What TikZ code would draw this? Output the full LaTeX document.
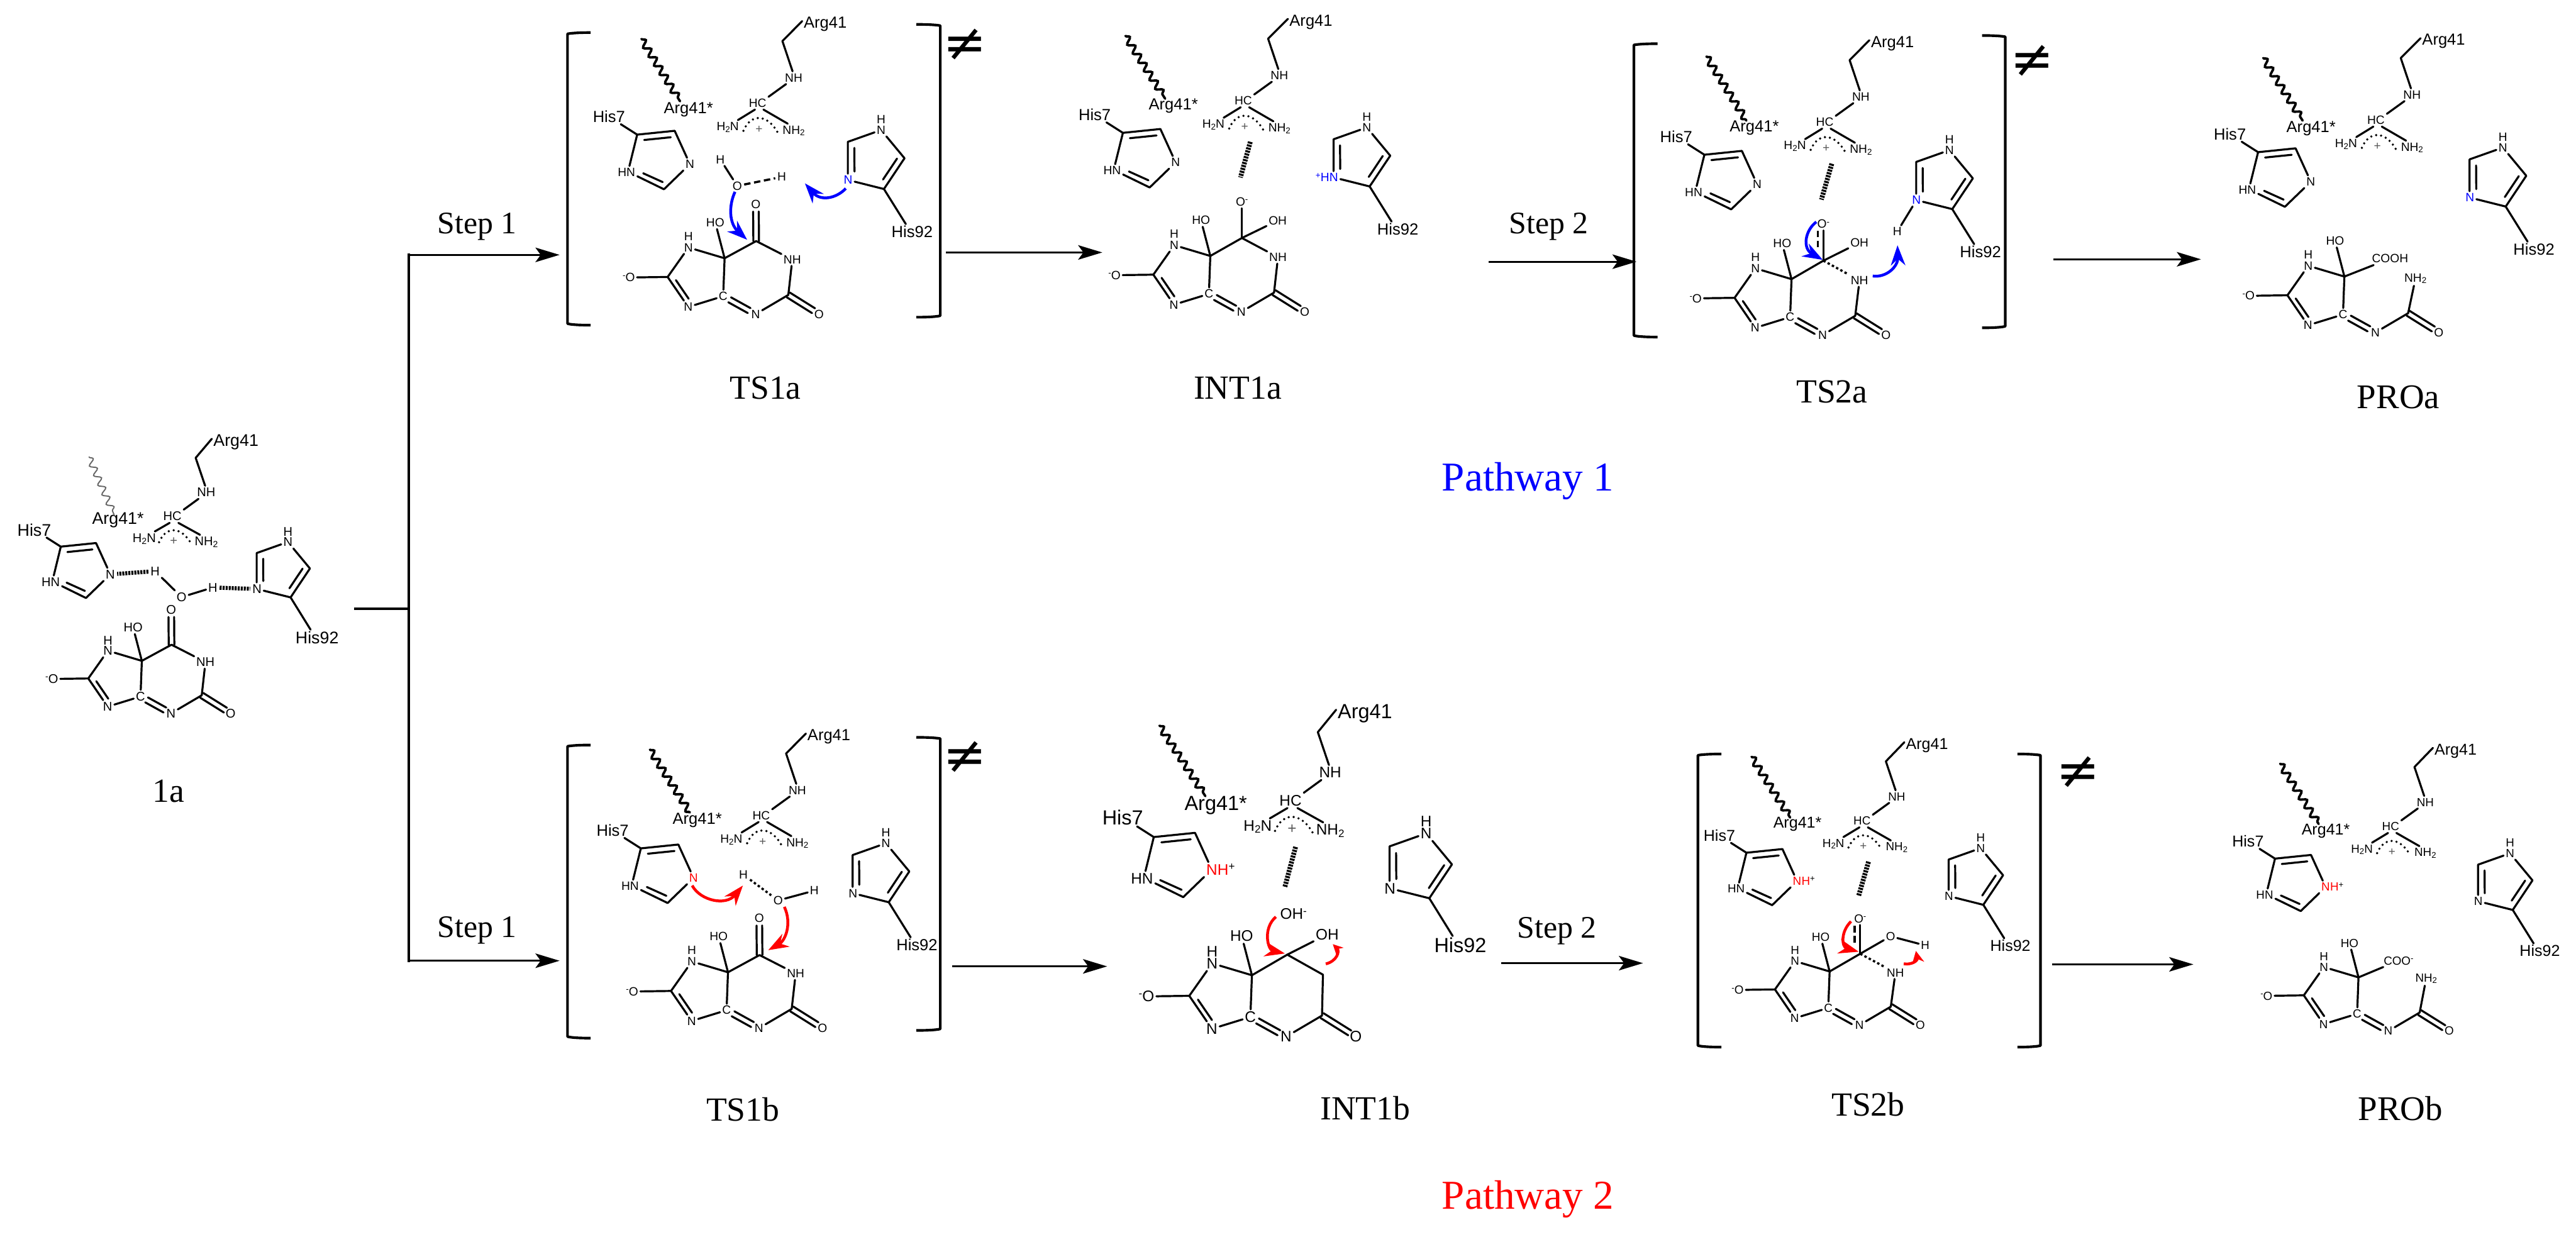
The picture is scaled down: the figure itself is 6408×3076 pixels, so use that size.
\documentclass[tikz,border=0pt]{standalone}
\usepackage{fontspec}
\usepackage{graphicx}
\setmainfont{Liberation Serif}
\newfontfamily\arialf{Liberation Sans}
\newfontfamily\neqfont{DejaVu Sans}
\usetikzlibrary{calc,arrows.meta,decorations.pathmorphing}
\newcommand\setcrop[4]{\def\cx{#1}\def\cy{#2}\def\fx{#3}\def\fy{#4}\pgfmathsetmacro\xc{#3*.1}\pgfmathsetmacro\yc{#4*.1}}
\newcommand\setsk[2]{\pgfmathsetmacro\xu{#1*.07015}\pgfmathsetmacro\yu{#1*.0638}\pgfmathsetmacro\fAtom{3.0*#2}\pgfmathsetmacro\fLab{4.0*#2}}
\newcommand\subt[1]{\raisebox{-.25ex}{\scalebox{.7}{#1}}}
\newcommand\supt[1]{\raisebox{.55ex}{\scalebox{.7}{#1}}}
\tikzset{
  frag/.style 2 args={shift={({\cx+\fx*(#1)},{\cy+\fy*(#2)})},x=\xu pt,y=-\yu pt},
  cropf/.style={shift={(\cx,\cy)},x=\xc pt,y=-\yc pt},
  atom/.style={font={\arialf\fontsize{\fAtom pt}{\fAtom pt}\selectfont},inner sep=.55pt,outer sep=0pt},
  lab/.style={font={\arialf\fontsize{\fLab pt}{\fLab pt}\selectfont},inner sep=.4pt,outer sep=0pt},
  bond/.style={line width=.5pt,line cap=round,line join=round},
  brk/.style={line width=.65pt,line join=round},
  dotsty/.style={line width=.62pt,line cap=round,dash pattern=on 0pt off 1.25pt},
  hb/.style={line width=1pt,dash pattern=on .5pt off .25pt},
  hatchb/.style={line width=1.2pt,dash pattern=on .5pt off .25pt},
  dashb/.style={line width=.55pt,dash pattern=on 1.6pt off .9pt},
  dotb/.style={line width=.55pt,dash pattern=on .6pt off .6pt},
  wav/.style={decorate,decoration={snake,segment length=2.6pt,amplitude=.8pt},line width=.6pt,line cap=round},
  bluearrow/.style={draw=blue,line width=.7pt,-{Stealth[length=5pt,width=3.6pt]}},
  redarrow/.style={draw=red,line width=.7pt,-{Stealth[length=5pt,width=3.6pt]}},
  rxn/.style={line width=.5pt,-{Stealth[length=6pt,width=3.6pt,inset=1.3pt]}},
  capt/.style={font=\fontsize{8.4pt}{8.4pt}\selectfont,inner sep=0pt},
  stepl/.style={font=\fontsize{7.8pt}{7.8pt}\selectfont,inner sep=0pt},
  pathl/.style={font=\fontsize{10.2pt}{10.2pt}\selectfont,inner sep=0pt},
  neq/.style={font=\neqfont\fontsize{13pt}{13pt}\selectfont,inner sep=0pt},
  redsuffix/.style={atom,anchor=base west,inner sep=0pt,text=red,xshift=-.5pt},
}
\newcommand\dbl[5]{\draw[bond] ($(#1)!#3!(#2)!#5!90:(#2)$) -- ($(#1)!#4!(#2)!#5!90:(#2)$);}
\newcommand\dbls[4]{\dbl{#1}{#2}{#3}{#4}{.7pt}\dbl{#1}{#2}{#3}{#4}{-.7pt}}
% imidazole half of the core, anchor C5; #4 = rest of the molecule
\newcommand\Core[4]{\begin{scope}[frag={#2}{#3}]
  \node[atom] (#1-O) at (-340,75) {\supt{-}O};
  \coordinate (#1-C8) at (-202,73);
  \node[atom] (#1-N7) at (-128,-42) {N};
  \node[atom] (#1-H7) at (-128,-85) {H};
  \node[atom] (#1-N9) at (-129,190) {N};
  \node[atom] (#1-C4) at (-5,148) {C};
  \coordinate (#1-C5) at (0,0);
  \node[atom] (#1-HO) at (-33,-139) {HO};
  \draw[bond] (#1-O) -- (#1-C8) -- (#1-N7) -- (#1-C5) -- (#1-C4) -- (#1-N9) -- (#1-C8);
  \draw[bond] (#1-C5) -- (#1-HO);
  \dbl{#1-C8}{#1-N9}{.2}{.82}{1.25pt}
  #4
\end{scope}}
\newcommand\RingLow[1]{%
  \coordinate (#1-C2) at (226,143);
  \node[atom] (#1-N3) at (110,218) {N};
  \node[atom] (#1-O2) at (335,218) {O};
  \draw[bond] (#1-C2) -- (#1-N3);
  \dbls{#1-C2}{#1-O2}{0}{.82}
  \dbls{#1-C4}{#1-N3}{.2}{.8}}
\newcommand\PyrCO[1]{%
  \coordinate (#1-C6) at (112,-67);
  \node[atom] (#1-O6) at (111,-211) {O};
  \node[atom] (#1-NH) at (240,5) {NH};
  \RingLow{#1}
  \draw[bond] (#1-C5) -- (#1-C6) -- (#1-NH) -- (#1-C2);
  \dbls{#1-C6}{#1-O6}{0}{.8}}
\newcommand\Arg[3]{\begin{scope}[frag={#2}{#3}]
  \node[atom] (#1-HC) at (0,0) {HC};
  \node[atom] (#1-NH1) at (128,-99) {NH};
  \coordinate (#1-CH2) at (88,-242);
  \node[lab] (#1-Arg) at (240,-307) {Arg41};
  \node[atom] (#1-H2N) at (-106,94) {H\subt{2}N};
  \node[atom] (#1-NH2) at (128,108) {NH\subt{2}};
  \node[atom,text=black!65] (#1-pl) at (5,103) {+};
  \draw[bond] (#1-HC.-112) -- (#1-H2N.35);
  \draw[bond] (#1-HC.-48) -- (#1-NH2.130);
  \draw[bond] (#1-HC.30) -- (#1-NH1.-140);
  \draw[bond] (#1-NH1.100) -- (#1-CH2) -- (#1-Arg.172);
  \draw[dotsty] (-50,108) .. controls (-25,40) and (35,40) .. (73,118);
\end{scope}}
\newcommand\Wavy[5]{\begin{scope}[cropf]
  \coordinate (#1-w1) at (#2); \coordinate (#1-w2) at (#3);
  \node[lab] (#1-ArgS) at (#4) {Arg41*};
  \draw[wav,#5] (#1-w1) -- (#1-w2);
\end{scope}}
% #4 colour of N, #5 extra
\newcommand\HisS[5]{\begin{scope}[frag={#2}{#3}]
  \coordinate (#1-7C) at (0,0);
  \coordinate (#1-7D) at (133,-15);
  \coordinate (#1-7E) at (95,213);
  \node[atom,text=#4] (#1-7N) at (187,115) {N};
  \node[atom] (#1-7HN) at (-38,147) {HN};
  \node[lab] (#1-7L) at (-100,-70) {His7};
  \draw[bond] (#1-7L) -- (#1-7C) -- (#1-7D) -- (#1-7N) -- (#1-7E) -- (#1-7HN.-20);
  \draw[bond] (#1-7C) -- (#1-7HN.65);
  \dbl{#1-7C}{#1-7D}{.17}{.88}{-1.5pt}
  \dbl{#1-7HN}{#1-7E}{.38}{.9}{1.5pt}
  #5
\end{scope}}
\newcommand\HisN[5]{\begin{scope}[frag={#2}{#3}]
  \coordinate (#1-9S) at (0,0);
  \coordinate (#1-9C) at (73,-120);
  \coordinate (#1-9D) at (-128,-184);
  \node[atom] (#1-9T) at (-10,-230) {N};
  \node[atom] (#1-9H) at (-10,-272) {H};
  \node[atom,text=#4] (#1-9N) at (-127,-35) {N};
  \node[lab] (#1-9L) at (100,166) {His92};
  \draw[bond] (#1-9S) -- (#1-9C) -- (#1-9T) -- (#1-9D) -- (#1-9N.north -| #1-9D);
  \draw[bond] (#1-9N) -- (#1-9S) -- (#1-9L.130);
  \dbl{#1-9S}{#1-9C}{.2}{.88}{1.5pt}
  \dbl{#1-9D}{#1-9N}{.16}{.78}{1.6pt}
  #5
\end{scope}}
\newcommand\BrkS[4]{\draw[brk] (#1,#3) .. controls ({#1+.6*(#2-#1)},#3) and ({#1+.9*(#2-#1)},{#3+3}) .. (#2,{#3+5}) -- (#2,{#4-6}) .. controls ({#1+.9*(#2-#1)},{#4-3}) and ({#1+.6*(#2-#1)},#4) .. (#1,#4);}
\begin{document}
\begin{tikzpicture}[x=.1pt,y=-.1pt]
\useasboundingbox (0,0) rectangle (6408,3076);
% ------------------------- 1a
\setcrop{0}{1000}{.638}{.7015}\setsk{.94}{1.05}
\Core{a}{553}{918}{\PyrCO{a}}
\Arg{a}{672}{405}
\Wavy{a}{347,195}{445,400}{460,420}{draw=black!60,line width=.3pt}
\HisS{a}{237}{513}{black}{}
\HisN{a}{1133}{693}{black}{}
\begin{scope}[cropf]
  \node[atom] (a-W1) at (605,600) {H};
  \node[atom] (a-WO) at (708,692) {O};
  \node[atom] (a-W2) at (830,658) {H};
  \draw[bond] (a-W1) -- (a-WO) -- (a-W2);
  \draw[hb] (a-W1) -- (a-7N);
  \draw[hb] (a-W2) -- (a-9N);
\end{scope}
\node[capt] (c1a) at (419,1968) {1a};
% ------------------------- branches
\coordinate (stubL) at (881,1514);
\coordinate (stemT) at (1017,630);
\coordinate (stemB) at (1017,2394);
\coordinate (stubR) at (1017,1514);
\coordinate (arm1) at (1017,634);
\coordinate (arm2) at (1017,2390);
\coordinate (tip1) at (1392,634);
\coordinate (tip2) at (1392,2390);
\draw[line width=.7pt] (stubL) -- (stubR);
\draw[line width=.75pt] (stemT) -- (stemB);
\draw[rxn] (arm1) -- (tip1);
\draw[rxn] (arm2) -- (tip2);
\node[stepl] (s1a) at (1187,564) {Step 1};
\node[stepl] (s1b) at (1187,2314) {Step 1};
% ------------------------- TS1a
\setcrop{1350}{0}{.7015}{.638}\setsk{1}{1}
\Core{b}{645}{1007}{\PyrCO{b}}
\Arg{b}{762}{402}
\Wavy{b}{350,152}{487,395}{517,427}{}
\HisS{b}{335}{525}{black}{}
\HisN{b}{1210}{737}{blue}{}
\begin{scope}[cropf]
  \node[atom] (b-W1) at (630,622) {H};
  \node[atom] (b-WO) at (690,725) {O};
  \node[atom] (b-W2) at (848,690) {H};
  \draw[bond] (b-W1) -- (b-WO);
  \draw[dashb] (b-WO) -- (b-W2);
  \draw[bluearrow] (682,748) .. controls (660,800) and (660,870) .. (725,935);
  \draw[bluearrow] (1075,735) .. controls (1040,775) and (985,785) .. (930,715);
  \BrkS{170}{88}{127}{1268}
  \BrkS{1325}{1410}{95}{1237}
  \node[neq] (b-ne) at (1497,175) {≠};
\end{scope}
\node[capt] (cts1a) at (1904,966) {TS1a};
\coordinate (o1) at (2353,628);
\coordinate (i1) at (2742,628);
\draw[rxn] (o1) -- (i1);
% ------------------------- INT1a
\setcrop{2500}{0}{.7015}{.638}\setsk{1}{1}
\Core{c}{728}{998}{
  \coordinate (c-C6) at (112,-70);
  \node[atom] (c-O6) at (112,-211) {O\supt{-}};
  \node[atom] (c-OH) at (239,-138) {OH};
  \node[atom] (c-NH) at (240,5) {NH};
  \RingLow{c}
  \draw[bond] (c-C5) -- (c-C6) -- (c-NH) -- (c-C2);
  \draw[bond] (c-C6) -- (c-O6);
  \draw[bond] (c-C6) -- (c-OH);
}
\Arg{c}{845}{393}
\Wavy{c}{427,140}{568,385}{597,412}{}
\HisS{c}{418}{518}{black}{}
\HisN{c}{1293}{727}{blue}{\node[atom,anchor=base east,inner sep=0pt,text=blue,xshift=.5pt] (c-9P) at (c-9N.base west) {\supt{+}H};}
\begin{scope}[cropf]
  \coordinate (c-h1) at (870,553); \coordinate (c-h2) at (835,692);
  \draw[hatchb] (c-h1) -- (c-h2);
\end{scope}
\node[capt] (cint1a) at (3079,966) {INT1a};
\coordinate (o2) at (3703,651);
\coordinate (i2) at (4071,651);
\draw[rxn] (o2) -- (i2);
\node[stepl] (s2a) at (3853,563) {Step 2};
% ------------------------- TS2a
\setcrop{3950}{50}{.7015}{.638}\setsk{1}{1}
\Core{d}{722}{1010}{
  \coordinate (d-C6) at (113,-72);
  \node[atom] (d-O6) at (113,-215) {O\supt{-}};
  \node[atom] (d-OH) at (241,-142) {OH};
  \node[atom] (d-NH) at (241,5) {NH};
  \RingLow{d}
  \draw[bond] (d-C5) -- (d-C6);
  \draw[bond] (d-NH) -- (d-C2);
  \draw[bond] (d-C6) -- (d-O6);
  \draw[bond] (d-C6) -- (d-OH);
  \draw[dotb] (d-C6) -- (d-NH);
  \coordinate (d-x1) at (93,-188); \coordinate (d-x2) at (93,-110);
  \draw[dashb] (d-x1) -- (d-x2);
}
\Arg{d}{840}{398}
\Wavy{d}{420,142}{562,392}{590,420}{}
\HisS{d}{413}{525}{black}{}
\HisN{d}{1292}{737}{blue}{}
\begin{scope}[cropf]
  \node[atom] (d-W) at (1097,825) {H};
  \draw[bond] (d-W) -- (d-9N);
  \coordinate (d-h1) at (865,560); \coordinate (d-h2) at (828,700);
  \draw[hatchb] (d-h1) -- (d-h2);
  \draw[bluearrow] (810,787) .. controls (770,820) and (760,890) .. (833,935);
  \draw[bluearrow] (1010,998) .. controls (1060,1005) and (1100,960) .. (1098,878);
  \BrkS{247}{163}{92}{1236}
  \BrkS{1398}{1480}{60}{1200}
  \node[neq] (d-ne) at (1575,160) {≠};
\end{scope}
\node[capt] (cts2a) at (4557,975) {TS2a};
\coordinate (o3) at (5108,645);
\coordinate (i3) at (5475,645);
\draw[rxn] (o3) -- (i3);
% ------------------------- PROa
\setcrop{5300}{50}{.7015}{.638}\setsk{1}{1}
\Core{e}{758}{1000}{
  \node[atom] (e-CO) at (162,-70) {COOH};
  \node[atom] (e-NA) at (252,8) {NH\subt{2}};
  \RingLow{e}
  \draw[bond] (e-C5) -- (e-CO);
  \draw[bond] (e-NA) -- (e-C2);
}
\Arg{e}{870}{390}
\Wavy{e}{470,148}{610,392}{640,422}{}
\HisS{e}{452}{515}{black}{}
\HisN{e}{1330}{727}{blue}{}
\node[capt,font=\fontsize{8.6pt}{8.6pt}\selectfont] (cproa) at (5966,988) {PROa};
\node[pathl,text=blue] (p1) at (3801,1197) {Pathway 1};
% ------------------------- TS1b
\setcrop{1350}{1750}{.7015}{.638}\setsk{1}{1}
\Core{f}{657}{1048}{\PyrCO{f}}
\Arg{f}{775}{437}
\Wavy{f}{380,180}{522,425}{548,455}{}
\HisS{f}{348}{565}{red}{}
\HisN{f}{1227}{775}{black}{}
\begin{scope}[cropf]
  \node[atom] (f-W1) at (712,668) {H};
  \node[atom] (f-WO) at (835,768) {O};
  \node[atom] (f-W2) at (963,730) {H};
  \draw[dotb] (f-W1) -- (f-WO);
  \draw[bond] (f-WO) -- (f-W2);
  \draw[redarrow] (530,710) .. controls (560,770) and (650,790) .. (710,710);
  \draw[redarrow] (857,793) .. controls (885,860) and (860,925) .. (800,962);
  \BrkS{170}{88}{162}{1305}
  \BrkS{1325}{1410}{132}{1275}
  \node[neq] (f-ne) at (1497,210) {≠};
\end{scope}
\node[capt] (cts1b) at (1848,2760) {TS1b};
\coordinate (o4) at (2369,2404);
\coordinate (i4) at (2754,2404);
\draw[rxn] (o4) -- (i4);
% ------------------------- INT1b
\setcrop{2600}{1700}{.7015}{.7015}\setsk{1.1}{1.27}
\Core{g}{733}{1035}{
  \coordinate (g-C6) at (114,-73);
  \coordinate (g-CH) at (229,-2);
  \node[atom] (g-O6) at (134,-217) {OH\supt{-}};
  \node[atom] (g-OH) at (243,-145) {OH};
  \RingLow{g}
  \draw[bond] (g-C5) -- (g-C6) -- (g-CH) -- (g-C2);
  \draw[bond] (g-C6) -- (g-OH);
}
\Arg{g}{870}{415}
\Wavy{g}{405,150}{568,400}{605,433}{}
\HisS{g}{385}{545}{red}{\node[redsuffix] (g-7P) at (g-7N.base east) {H\supt{\color{black}+}};}
\HisN{g}{1362}{762}{black}{}
\begin{scope}[cropf]
  \coordinate (g-h1) at (888,580); \coordinate (g-h2) at (850,722);
  \draw[hatchb] (g-h1) -- (g-h2);
  \draw[redarrow] (818,828) .. controls (770,870) and (790,945) .. (850,958);
  \draw[draw=red,line width=.7pt,-{Stealth[length=2.5pt,width=2.5pt]}] (995,995) .. controls (1035,985) and (1045,950) .. (1020,925);
\end{scope}
\node[capt] (cint1b) at (3396,2756) {INT1b};
\coordinate (o5) at (3734,2396);
\coordinate (i5) at (4087,2396);
\draw[rxn] (o5) -- (i5);
\node[stepl] (s2b) at (3873,2316) {Step 2};
% ------------------------- TS2b
\setcrop{4150}{1750}{.7015}{.638}\setsk{.96}{.98}
\Core{h}{572}{1045}{
  \coordinate (h-C6) at (113,-72);
  \node[atom] (h-O6) at (113,-215) {O\supt{-}};
  \node[atom] (h-OH) at (225,-143) {O};
  \node[atom] (h-HH) at (353,-106) {H};
  \node[atom] (h-NH) at (243,5) {NH};
  \RingLow{h}
  \draw[bond] (h-C5) -- (h-C6);
  \draw[bond] (h-NH) -- (h-C2);
  \draw[bond] (h-C6) -- (h-O6);
  \draw[bond] (h-C6) -- (h-OH) -- (h-HH);
  \draw[dotb] (h-C6) -- (h-NH);
  \coordinate (h-x1) at (92,-185); \coordinate (h-x2) at (92,-105);
  \draw[dashb] (h-x1) -- (h-x2);
}
\Arg{h}{687}{458}
\Wavy{h}{295,208}{432,445}{458,470}{}
\HisS{h}{277}{582}{red}{\node[redsuffix] (h-7P) at (h-7N.base east) {H\supt{\color{black}+}};}
\HisN{h}{1117}{785}{black}{}
\begin{scope}[cropf]
  \coordinate (h-h1) at (710,617); \coordinate (h-h2) at (675,750);
  \draw[hatchb] (h-h1) -- (h-h2);
  \draw[redarrow] (648,850) .. controls (610,890) and (615,950) .. (675,968);
  \draw[draw=red,line width=.7pt,-{Stealth[length=3pt,width=3pt]}] (835,1015) .. controls (860,1020) and (885,1005) .. (878,965);
  \BrkS{188}{105}{197}{1340}
  \BrkS{1238}{1320}{197}{1340}
  \node[neq] (h-ne) at (1453,268) {≠};
\end{scope}
\node[capt] (cts2b) at (4647,2748) {TS2b};
\coordinate (o6) at (5104,2399);
\coordinate (i6) at (5456,2399);
\draw[rxn] (o6) -- (i6);
% ------------------------- PROb
\setcrop{5300}{1750}{.7015}{.638}\setsk{.96}{.98}
\Core{i}{808}{1068}{
  \node[atom] (i-CO) at (148,-68) {COO\supt{-}};
  \node[atom] (i-NA) at (250,5) {NH\subt{2}};
  \RingLow{i}
  \draw[bond] (i-C5) -- (i-CO);
  \draw[bond] (i-NA) -- (i-C2);
}
\Arg{i}{922}{480}
\Wavy{i}{530,235}{667,470}{692,497}{}
\HisS{i}{512}{605}{red}{\node[redsuffix] (i-7P) at (i-7N.base east) {H\supt{\color{black}+}};}
\HisN{i}{1355}{805}{black}{}
\node[capt,font=\fontsize{8.6pt}{8.6pt}\selectfont] (cprob) at (5971,2758) {PROb};
\node[pathl,text=red] (p2) at (3801,2983) {Pathway 2};
\end{tikzpicture}
\end{document}
